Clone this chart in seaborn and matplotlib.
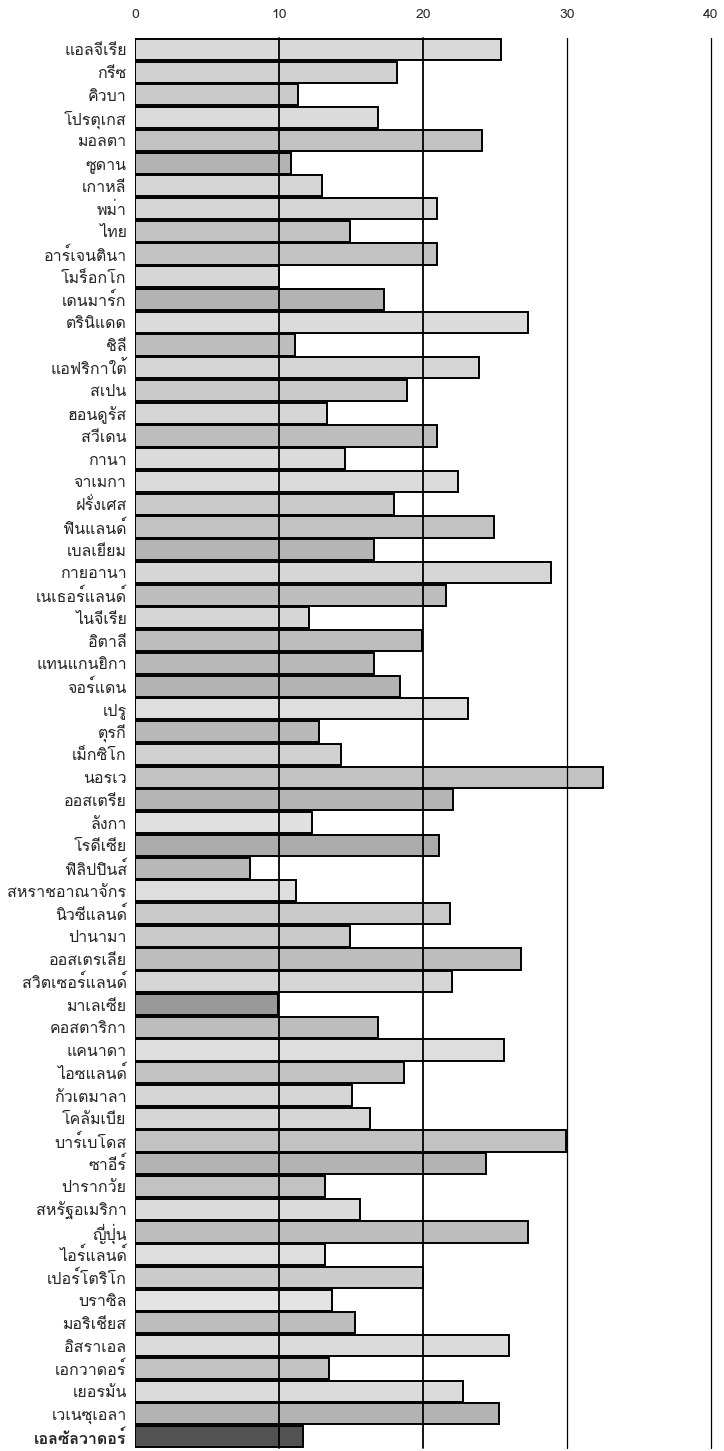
import matplotlib
matplotlib.use('Agg')
import matplotlib.pyplot as plt
import seaborn as sns
import pandas as pd
from matplotlib import font_manager
from fontTools.ttLib import TTFont

# Données
pays = ['แอลจีเรีย', 'กรีซ', 'คิวบา', 'โปรตุเกส', 'มอลตา', 'ซูดาน', 'เกาหลี', 'พม่า',
        'ไทย', 'อาร์เจนตินา', 'โมร็อกโก', 'เดนมาร์ก', 'ตรินิแดด', 'ชิลี', 'แอฟริกาใต้',
        'สเปน', 'ฮอนดูรัส', 'สวีเดน', 'กานา', 'จาเมกา', 'ฝรั่งเศส', 'ฟินแลนด์', 'เบลเยียม',
        'กายอานา', 'เนเธอร์แลนด์', 'ไนจีเรีย', 'อิตาลี', 'แทนแกนยิกา', 'จอร์แดน', 'เปรู',
        'ตุรกี', 'เม็กซิโก', 'นอรเว', 'ออสเตรีย', 'ลังกา', 'โรดีเซีย', 'ฟิลิปปินส์',
        'สหราชอาณาจักร', 'นิวซีแลนด์', 'ปานามา', 'ออสเตรเลีย', 'สวิตเซอร์แลนด์', 'มาเลเซีย',
        'คอสตาริกา', 'แคนาดา', 'ไอซแลนด์', 'กัวเตมาลา', 'โคลัมเบีย', 'บาร์เบโดส', 'ซาอีร์',
        'ปารากวัย', 'สหรัฐอเมริกา', 'ญี่ปุ่น', 'ไอร์แลนด์', 'เปอร์โตริโก', 'บราซิล', 'มอริเชียส',
        'อิสราเอล', 'เอกวาดอร์', 'เยอรมัน', 'เวเนซุเอลา', 'เอลซัลวาดอร์']

valeurs = [25.4, 18.2, 11.3, 16.9, 24.1, 10.8, 13.0, 21.0, 14.9, 21.0, 10.0, 17.3,
           27.3, 11.1, 23.9, 18.9, 13.3, 21.0, 14.6, 22.4, 18.0, 24.9, 16.6, 28.9,
           21.6, 12.1, 19.9, 16.6, 18.4, 23.1, 12.8, 14.3, 32.5, 22.1, 12.3, 21.1,
           8.0, 11.2, 21.9, 14.9, 26.8, 22.0, 9.9, 16.9, 25.6, 18.7, 15.1, 16.3,
           29.9, 24.4, 13.2, 15.6, 27.3, 13.2, 20.0, 13.7, 15.3, 26.0, 13.5, 22.8,
           25.3, 11.7]

graduations = [0, 10, 20, 30, 40]

# Niveaux de gris des barres (trame imprimée)
gris = [0.85, 0.82, 0.79, 0.86, 0.76, 0.70, 0.84, 0.84, 0.76, 0.76, 0.84, 0.70,
        0.86, 0.74, 0.84, 0.79, 0.84, 0.74, 0.86, 0.86, 0.79, 0.76, 0.71, 0.84,
        0.74, 0.84, 0.74, 0.72, 0.70, 0.87, 0.72, 0.82, 0.76, 0.71, 0.88, 0.67,
        0.72, 0.87, 0.79, 0.79, 0.74, 0.84, 0.60, 0.74, 0.87, 0.76, 0.84, 0.84,
        0.76, 0.70, 0.76, 0.86, 0.74, 0.87, 0.80, 0.89, 0.74, 0.86, 0.76, 0.86,
        0.70, 0.32]
couleurs = [(g, g, g) for g in gris]


def police_thai():
    # Chercher une police qui contient les glyphes thaïs
    for f in font_manager.fontManager.ttflist:
        try:
            tt = TTFont(f.fname, fontNumber=0, lazy=True)
            cmap = tt.getBestCmap()
            if cmap and 0x0E01 in cmap and 0x0E35 in cmap:
                return f.name
        except Exception:
            continue
    return None


sns.set_style('white')
thai = police_thai()
plt.rcParams['font.family'] = [thai, 'DejaVu Sans'] if thai else ['DejaVu Sans']

df = pd.DataFrame({'pays': pays, 'valeur': valeurs})

fig = plt.figure(figsize=(7.24, 14.51), dpi=100)
ax = fig.add_axes([135 / 724, 3 / 1451, (711 - 135) / 724, 1410 / 1451])

sns.barplot(data=df, x='valeur', y='pays', hue='pays', palette=couleurs, legend=False,
            orient='h', width=0.93, edgecolor='black', linewidth=1.4, ax=ax, zorder=2)

ax.set_xlim(0, 40)
ax.set_ylim(len(pays) - 0.5, -0.5)

# Lignes verticales de repère
for t in graduations[1:]:
    lw = 1.3 if t <= 20 else 0.9
    ax.axvline(t, color='black', linewidth=lw, zorder=3, clip_on=False)

ax.xaxis.tick_top()
ax.set_xticks(graduations)
ax.set_xticklabels([str(t) for t in graduations], fontsize=10)
ax.tick_params(axis='x', length=0, pad=12)
ax.tick_params(axis='y', length=0, pad=6, labelsize=11.5)
ax.set_xlabel('')
ax.set_ylabel('')
for s in ax.spines.values():
    s.set_visible(False)

ax.get_yticklabels()[-1].set_fontweight('bold')

plt.savefig('out.png', dpi=100)
plt.close()
